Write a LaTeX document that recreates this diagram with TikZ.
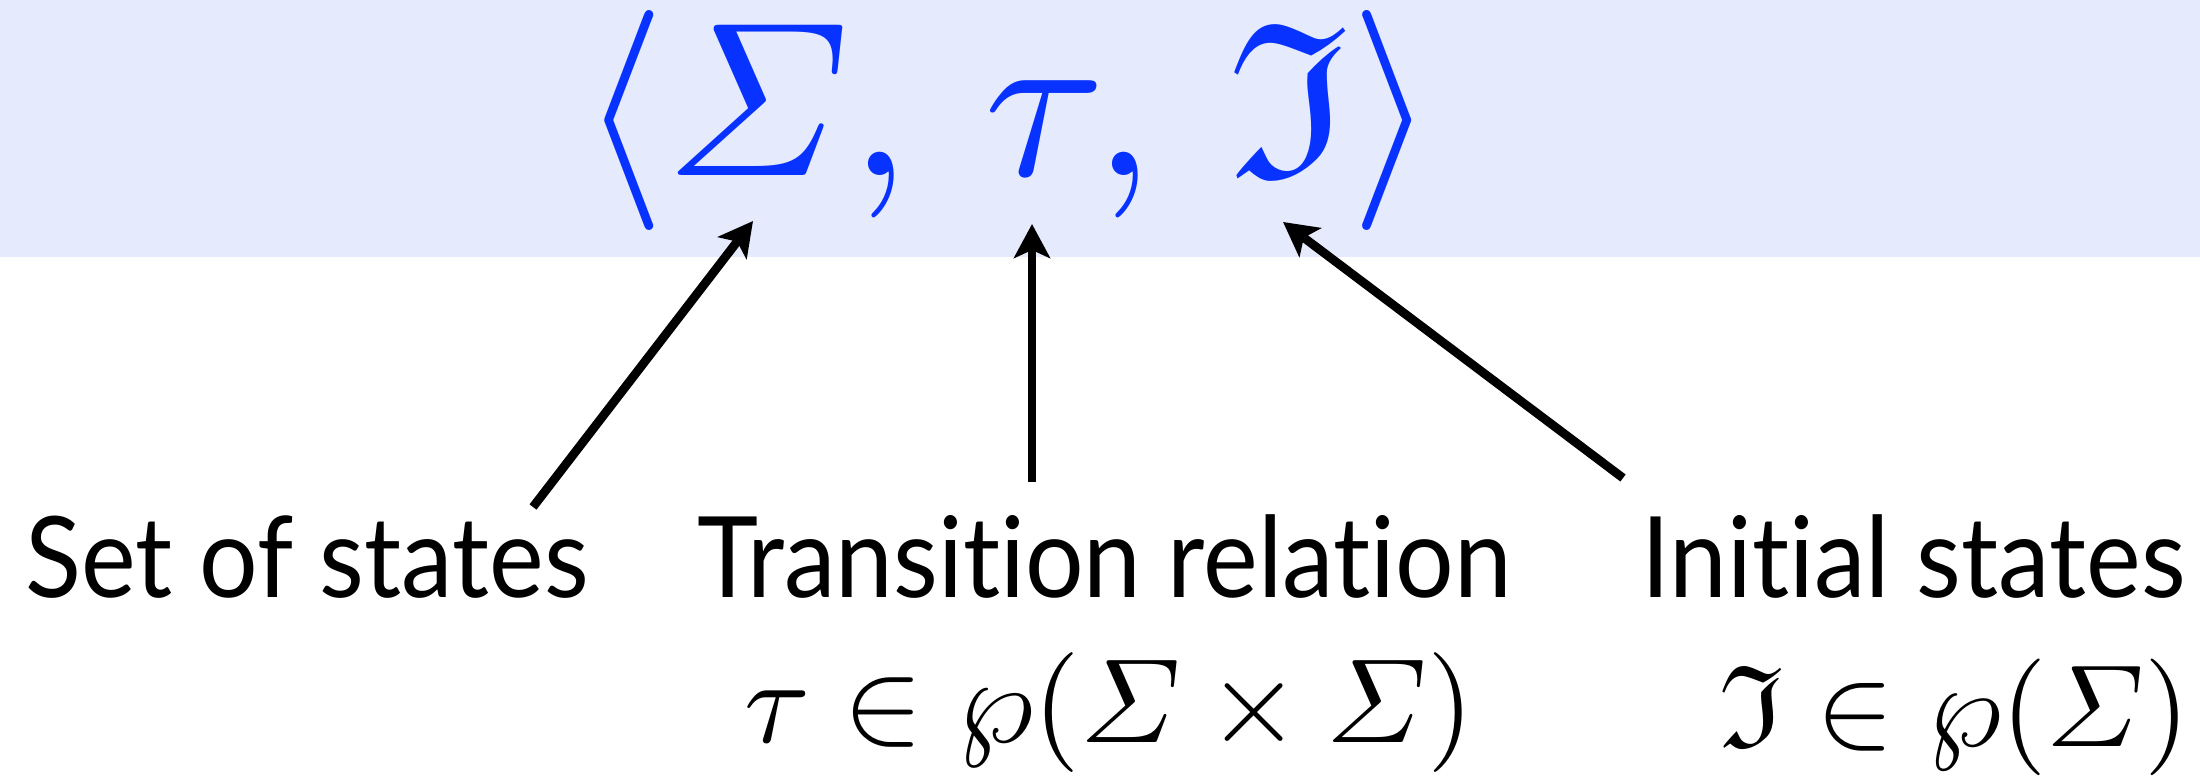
\documentclass[tikz,border=0pt]{standalone}
\usepackage{amsmath,amssymb}
\usepackage{fontspec}
\newfontfamily\labelfont[FakeStretch=0.92, Ligatures=NoCommon]{Lato}
\usetikzlibrary{arrows.meta}
\definecolor{bandblue}{RGB}{229,234,252}
\definecolor{mathblue}{RGB}{8,50,255}
\begin{document}
\begin{tikzpicture}[x=1cm,y=1cm,
  lbl/.style={font=\labelfont\fontsize{32}{38}\selectfont, inner sep=0, anchor=base west},
  formula/.style={inner sep=0},
  pointer/.style={line width=2.5pt, -{Stealth[length=0.34cm,width=0.36cm,inset=0.08cm]}}]
\useasboundingbox (0,0) rectangle (22,7.76);
\fill[bandblue] (0,5.19) rectangle (22,7.76);
\node[formula, anchor=base, text=mathblue] (tuple) at (10.08,6.00)
  {\scalebox{6.26}{$\langle \varSigma,\,\tau,\,\mathfrak{I}\rangle$}};
\node[lbl] (sos) at (0.25,1.79) {Set of states};
\node[lbl] (tr) at (6.97,1.79) {Transition relation};
\node[lbl] (is) at (16.41,1.79) {Initial states};
\node[formula, anchor=base west] (tdef) at (7.44,0.34)
  {\scalebox{3.41}{$\tau \in \wp(\varSigma \times \varSigma)$}};
\node[formula, anchor=base west] (idef) at (17.19,0.30)
  {\scalebox{3.32}{$\mathfrak{I} \in \wp(\varSigma)$}};
\coordinate (sigmaTip) at (7.53,5.55);
\coordinate (tauTip) at (10.32,5.52);
\coordinate (initTip) at (12.83,5.54);
\coordinate (sosTail) at (5.33,2.69);
\coordinate (trTail) at (10.32,2.94);
\coordinate (isTail) at (16.23,2.98);
\draw[pointer] (sosTail) -- (sigmaTip);
\draw[pointer] (trTail) -- (tauTip);
\draw[pointer] (isTail) -- (initTip);
\end{tikzpicture}
\end{document}
